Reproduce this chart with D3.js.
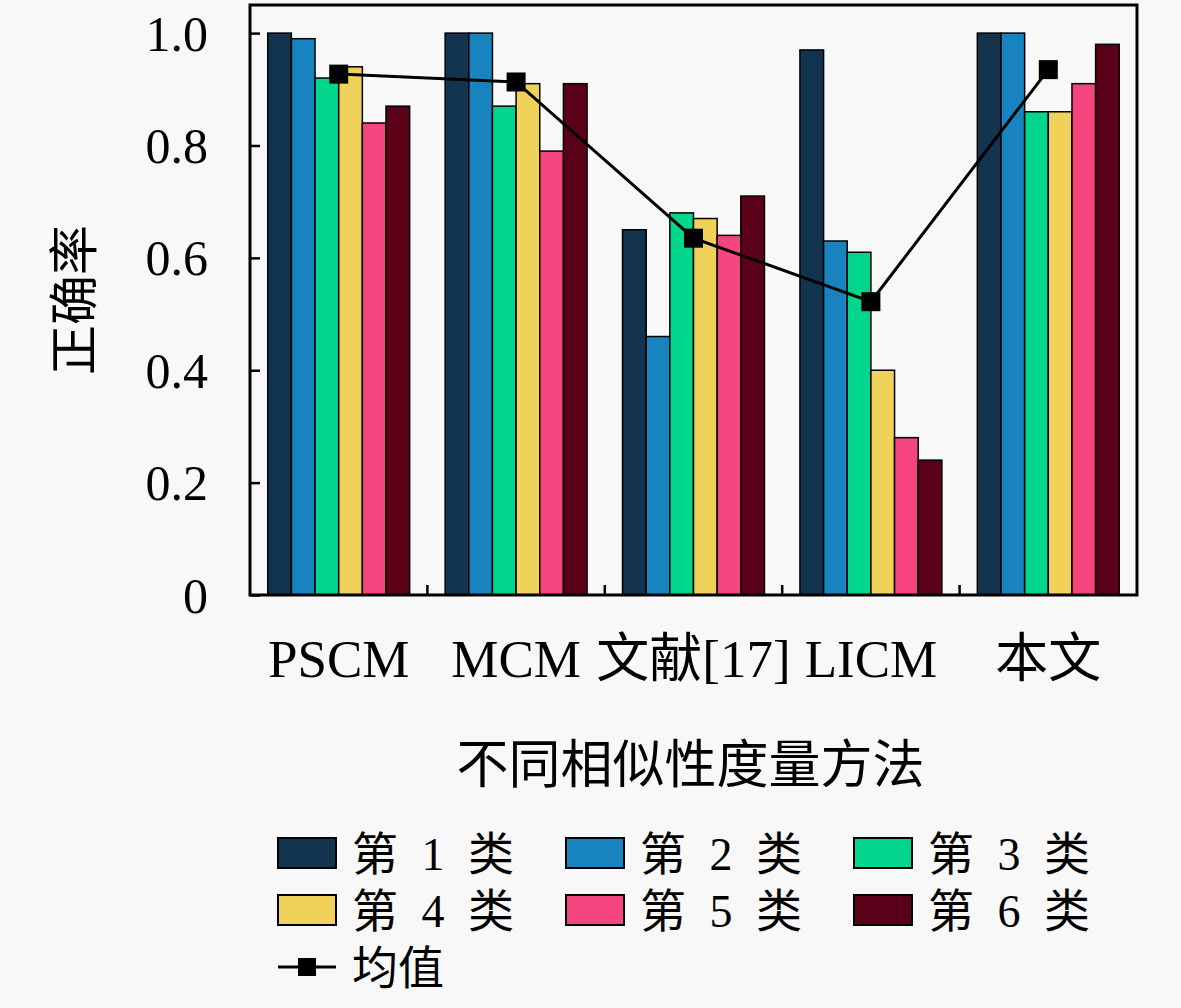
<!DOCTYPE html>
<html>
<head>
<meta charset="utf-8">
<script src="https://cdn.jsdelivr.net/npm/d3@7"></script>
<style>
  body { margin: 0; background: #f8f8f8; }
  svg { display: block; }
  text { fill: #000; }
</style>
</head>
<body>
<svg id="chart"></svg>
<script>
// data
const methods = ["PSCM", "MCM", "文献[17]", "LICM", "本文"];
const classes = ["第 1 类", "第 2 类", "第 3 类", "第 4 类", "第 5 类", "第 6 类"];
const class1 = [1.0, 1.0, 0.65, 0.97, 1.0];
const class2 = [0.99, 1.0, 0.46, 0.63, 1.0];
const class3 = [0.92, 0.87, 0.68, 0.61, 0.86];
const class4 = [0.94, 0.91, 0.67, 0.40, 0.86];
const class5 = [0.84, 0.79, 0.64, 0.28, 0.91];
const class6 = [0.87, 0.91, 0.71, 0.24, 0.98];
const meanValues = [0.927, 0.913, 0.635, 0.522, 0.935];
const yTicks = [0, 0.2, 0.4, 0.6, 0.8, 1.0];
const colors = ["#12344f", "#1784bf", "#00d68c", "#f0d25a", "#f5457f", "#5a0019"];

const seriesValues = [class1, class2, class3, class4, class5, class6];

const W = 1181, H = 1008;
const margin = { top: 5, right: 44, bottom: 413, left: 250 };
const width = W - margin.left - margin.right;
const height = H - margin.top - margin.bottom;

const svg = d3.select("#chart").attr("width", W).attr("height", H);
const serif = "'Liberation Serif', 'DejaVu Serif', serif";
const cjk = "'Noto Sans CJK SC', 'Liberation Serif', serif";
const mixed = "'Liberation Serif', 'Noto Sans CJK SC', serif";

const g = svg.append("g").attr("transform", `translate(${margin.left},${margin.top})`);

const x0 = d3.scaleBand().domain(methods).range([0, width]);
const bw = x0.bandwidth();
const x1 = d3.scaleBand().domain(classes).range([bw * 0.1, bw * 0.9]);
const y = d3.scaleLinear().domain([0, 1.05]).range([height, 0]);
const color = d3.scaleOrdinal().domain(classes).range(colors);

// bars
const groups = g.selectAll("g.grp")
  .data(methods)
  .join("g")
  .attr("class", "grp")
  .attr("transform", (d) => `translate(${x0(d)},0)`);

groups.selectAll("rect")
  .data((m, i) => classes.map((c, k) => ({ c, v: seriesValues[k][i] })))
  .join("rect")
  .attr("x", (d) => x1(d.c))
  .attr("y", (d) => y(d.v))
  .attr("width", x1.bandwidth())
  .attr("height", (d) => height - y(d.v))
  .attr("fill", (d) => color(d.c))
  .attr("stroke", "#000")
  .attr("stroke-width", 1.5);

// mean line
const meanData = methods.map((m, i) => ({ m, v: meanValues[i] }));
const line = d3.line()
  .x((d) => x0(d.m) + bw / 2)
  .y((d) => y(d.v));
g.append("path")
  .datum(meanData)
  .attr("d", line)
  .attr("fill", "none")
  .attr("stroke", "#000")
  .attr("stroke-width", 3);
const ms = 19;
g.selectAll("rect.mk")
  .data(meanData)
  .join("rect")
  .attr("class", "mk")
  .attr("x", (d) => x0(d.m) + bw / 2 - ms / 2)
  .attr("y", (d) => y(d.v) - ms / 2)
  .attr("width", ms)
  .attr("height", ms)
  .attr("fill", "#000");

// y axis
const yAxis = g.append("g")
  .call(d3.axisLeft(y)
    .tickValues(yTicks)
    .tickSize(-10)
    .tickPadding(42)
    .tickFormat((d) => (d === 0 ? "0" : d.toFixed(1))));
yAxis.select(".domain").remove();
yAxis.selectAll("line").attr("stroke-width", 2.5);
yAxis.selectAll("text")
  .style("font-family", serif)
  .style("font-size", "50px")
  .attr("dy", "0.34em");

// bottom ticks at the group edges
g.selectAll("line.bt")
  .data(methods.slice(1))
  .join("line")
  .attr("class", "bt")
  .attr("x1", (d) => x0(d))
  .attr("x2", (d) => x0(d))
  .attr("y1", height)
  .attr("y2", height - 10)
  .attr("stroke", "#000")
  .attr("stroke-width", 2.5);

// frame
g.append("rect")
  .attr("width", width)
  .attr("height", height)
  .attr("fill", "none")
  .attr("stroke", "#000")
  .attr("stroke-width", 3);

// category labels
g.selectAll("text.cat")
  .data(methods)
  .join("text")
  .attr("class", "cat")
  .attr("x", (d) => x0(d) + bw / 2)
  .attr("y", height + 82)
  .attr("text-anchor", "middle")
  .style("font-family", mixed)
  .style("font-size", "53px")
  .text((d) => d);

// axis titles
g.append("text")
  .attr("x", width / 2 - 3)
  .attr("y", height + 188)
  .attr("text-anchor", "middle")
  .style("font-family", cjk)
  .style("font-size", "52px")
  .text("不同相似性度量方法");

svg.append("text")
  .attr("transform", `translate(92,${margin.top + height / 2}) rotate(-90)`)
  .attr("text-anchor", "middle")
  .style("font-family", cjk)
  .style("font-size", "50px")
  .text("正确率");

// legend
const legend = svg.append("g").attr("transform", "translate(278,838)");
const colW = 288, rowH = 57;
const items = legend.selectAll("g.it")
  .data(classes)
  .join("g")
  .attr("class", "it")
  .attr("transform", (d, i) => `translate(${(i % 3) * colW},${Math.floor(i / 3) * rowH})`);
items.append("rect")
  .attr("width", 58)
  .attr("height", 30)
  .attr("fill", (d) => color(d))
  .attr("stroke", "#000")
  .attr("stroke-width", 2);
items.append("text")
  .attr("x", 74)
  .attr("y", 32)
  .style("font-family", mixed)
  .style("font-size", "46px")
  .style("word-spacing", "12px")
  .text((d) => d);

const meanItem = legend.append("g").attr("transform", `translate(0,${2 * rowH})`);
meanItem.append("line")
  .attr("x1", 0).attr("x2", 58)
  .attr("y1", 15).attr("y2", 15)
  .attr("stroke", "#000")
  .attr("stroke-width", 3);
meanItem.append("rect")
  .attr("x", 29 - 9).attr("y", 6)
  .attr("width", 18).attr("height", 18)
  .attr("fill", "#000");
meanItem.append("text")
  .attr("x", 74)
  .attr("y", 32)
  .style("font-family", mixed)
  .style("font-size", "46px")
  .text("均值");
</script>
</body>
</html>
